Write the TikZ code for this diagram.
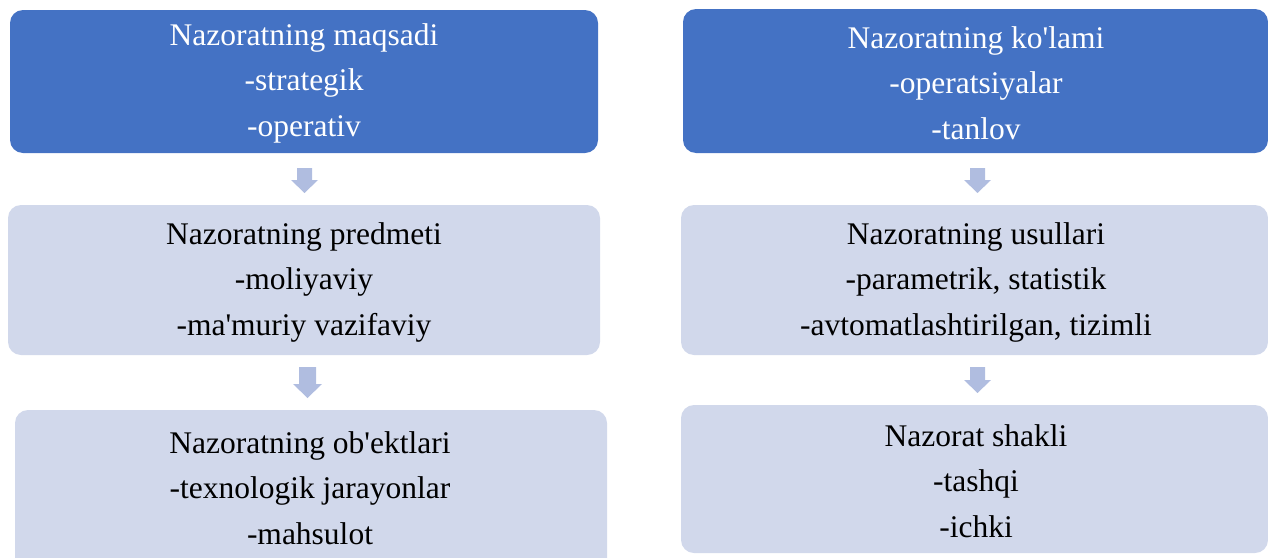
\documentclass[tikz,border=0pt]{standalone}
\usepackage{fontspec}
\setmainfont{Liberation Serif}[Ligatures=TeXOff]
\definecolor{darkbox}{RGB}{68,114,196}
\definecolor{lightbox}{RGB}{209,216,235}
\definecolor{arrowc}{RGB}{176,189,224}
\tikzset{
  topbox/.style={fill=darkbox, rounded corners=13pt, draw=none},
  lowbox/.style={fill=lightbox, rounded corners=13pt, draw=none},
  boxtext/.style={align=center, font=\fontsize{31.5}{45.5}\selectfont, inner sep=0pt},
  downarrow/.style={fill=arrowc, draw=none}
}
\begin{document}
\begin{tikzpicture}[x=1pt,y=-1pt]
\useasboundingbox (0,0) rectangle (1268,557);
% left column
\fill[topbox] (10,10) rectangle (598,153);
\node[boxtext, text=white] (l1) at (304,83) {Nazoratning maqsadi\\-strategik\\-operativ};
\fill[lowbox] (8,205) rectangle (600,355);
\node[boxtext] (l2) at (304,282) {Nazoratning predmeti\\-moliyaviy\\-ma'muriy vazifaviy};
\fill[lowbox] (15,410) rectangle (607,575);
\node[boxtext] (l3) at (310,488) {Nazoratning ob'ektlari\\-texnologik jarayonlar\\-mahsulot};
% right column
\fill[topbox] (683,9) rectangle (1268,153);
\node[boxtext, text=white] (r1) at (976,83) {Nazoratning ko'lami\\-operatsiyalar\\-tanlov};
\fill[lowbox] (681,205) rectangle (1268,355);
\node[boxtext] (r2) at (976,282) {Nazoratning usullari\\-parametrik, statistik\\-avtomatlashtirilgan, tizimli};
\fill[lowbox] (681,405) rectangle (1268,553);
\node[boxtext] (r3) at (976,481) {Nazorat shakli\\-tashqi\\-ichki};
% arrows
\fill[downarrow] (297,168) -- (312,168) -- (312,180) -- (318,180) -- (304.5,193) -- (291,180) -- (297,180) -- cycle;
\fill[downarrow] (299,367) -- (316,367) -- (316,384) -- (322,384) -- (307.5,398) -- (293,384) -- (299,384) -- cycle;
\fill[downarrow] (970,168) -- (985,168) -- (985,180) -- (991,180) -- (977.5,193) -- (964,180) -- (970,180) -- cycle;
\fill[downarrow] (970,367) -- (985,367) -- (985,380) -- (991,380) -- (977.5,393) -- (964,380) -- (970,380) -- cycle;
\end{tikzpicture}
\end{document}
